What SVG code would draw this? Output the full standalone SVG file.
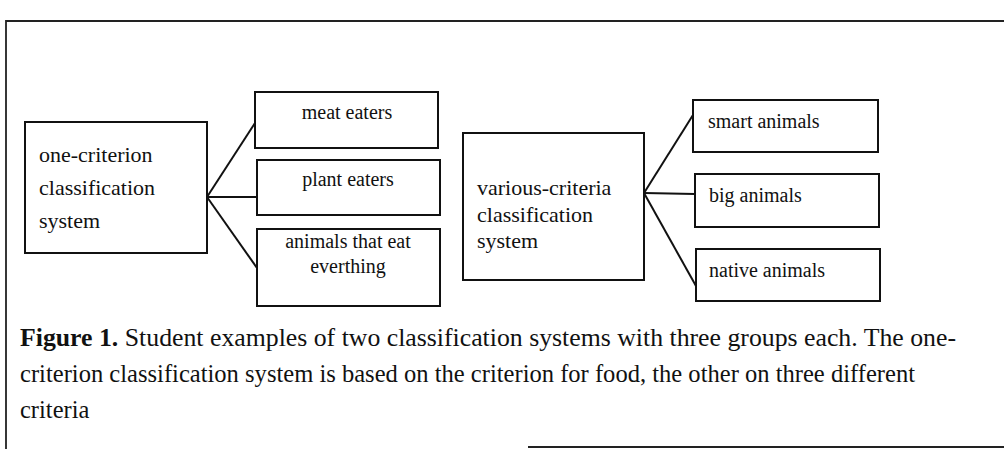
<svg xmlns="http://www.w3.org/2000/svg" width="1004" height="451" viewBox="0 0 1004 451">
  <style>
    .box { fill: #ffffff; stroke: #111111; stroke-width: 2; }
    .frame { fill: none; stroke: #222222; stroke-width: 1.8; }
    .conn { fill: none; stroke: #111111; stroke-width: 2; }
    .t22 { font-family: "Liberation Serif", "Times New Roman", serif; font-size: 22px; fill: #111111; }
    .t20 { font-family: "Liberation Serif", "Times New Roman", serif; font-size: 20px; fill: #111111; }
    .cap { font-family: "Liberation Serif", "Times New Roman", serif; font-size: 24.5px; fill: #111111; }
    .mid { text-anchor: middle; }
  </style>
  <rect width="1004" height="451" fill="#ffffff"/>
  <path class="frame" d="M1004,21 H6 V449"/>
  <path class="frame" d="M528,447 H1004"/>

  <g id="connectors">
    <line class="conn" x1="207" y1="197" x2="255" y2="123"/>
    <line class="conn" x1="207" y1="197" x2="257" y2="197"/>
    <line class="conn" x1="207" y1="197" x2="257" y2="268"/>
    <line class="conn" x1="644" y1="193" x2="693" y2="115"/>
    <line class="conn" x1="644" y1="193" x2="695" y2="194"/>
    <line class="conn" x1="644" y1="193" x2="696" y2="286"/>
  </g>

  <g id="one-criterion">
    <rect class="box" x="25" y="122" width="182" height="131"/>
    <text class="t22" x="39" y="162">one-criterion</text>
    <text class="t22" x="39" y="195">classification</text>
    <text class="t22" x="39" y="228">system</text>
  </g>
  <g id="meat-eaters">
    <rect class="box" x="255" y="92" width="183" height="56"/>
    <text class="t20 mid" x="347" y="119">meat eaters</text>
  </g>
  <g id="plant-eaters">
    <rect class="box" x="257" y="160" width="183" height="55"/>
    <text class="t20 mid" x="348" y="186">plant eaters</text>
  </g>
  <g id="animals-eat-everything">
    <rect class="box" x="257" y="229" width="183" height="77"/>
    <text class="t20 mid" x="348" y="248">animals that eat</text>
    <text class="t20 mid" x="348" y="273">everthing</text>
  </g>

  <g id="various-criteria">
    <rect class="box" x="463" y="133" width="181" height="147"/>
    <text class="t22" x="477" y="195">various-criteria</text>
    <text class="t22" x="477" y="222">classification</text>
    <text class="t22" x="477" y="248">system</text>
  </g>
  <g id="smart-animals">
    <rect class="box" x="693" y="100" width="185" height="52"/>
    <text class="t20" x="708" y="128">smart animals</text>
  </g>
  <g id="big-animals">
    <rect class="box" x="695" y="174" width="184" height="53"/>
    <text class="t20" x="709" y="202">big animals</text>
  </g>
  <g id="native-animals">
    <rect class="box" x="696" y="249" width="184" height="52"/>
    <text class="t20" x="709" y="277">native animals</text>
  </g>

  <g id="caption">
    <text class="cap" x="20" y="346" textLength="936" lengthAdjust="spacingAndGlyphs"><tspan font-weight="bold">Figure 1.</tspan> Student examples of two classification systems with three groups each. The one-</text>
    <text class="cap" x="20" y="382" textLength="895" lengthAdjust="spacingAndGlyphs">criterion classification system is based on the criterion for food, the other on three different</text>
    <text class="cap" x="20" y="418">criteria</text>
  </g>
</svg>
